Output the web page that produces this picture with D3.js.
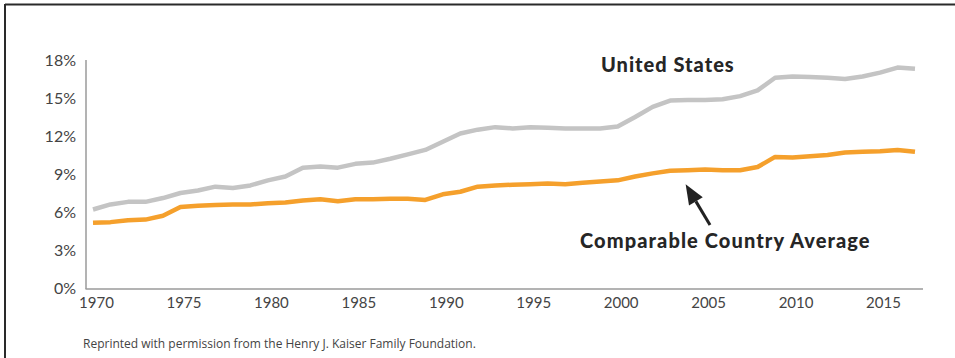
<!DOCTYPE html>
<html>
<head>
<meta charset="utf-8">
<script src="https://cdn.jsdelivr.net/npm/d3@7/dist/d3.min.js"></script>
<style>
  html, body { margin: 0; padding: 0; background: #fff; }
  svg { display: block; }
</style>
</head>
<body>
<svg id="chart" width="955" height="358"></svg>
<script>
// Health spending as a share of GDP, 1970–2017
const years = d3.range(1970, 2018);
const unitedStates = [
  6.2, 6.6, 6.8, 6.8, 7.1, 7.5, 7.7, 8.0, 7.9, 8.1,
  8.5, 8.8, 9.5, 9.6, 9.5, 9.8, 9.9, 10.2, 10.55, 10.9,
  11.55, 12.2, 12.5, 12.7, 12.6, 12.7, 12.65, 12.6, 12.6, 12.6,
  12.75, 13.5, 14.3, 14.8, 14.85, 14.85, 14.9, 15.15, 15.6, 16.6,
  16.7, 16.65, 16.6, 16.5, 16.7, 17.0, 17.4, 17.3
];
const comparableAverage = [
  5.15, 5.2, 5.35, 5.4, 5.7, 6.4, 6.5, 6.55, 6.6, 6.6,
  6.7, 6.75, 6.9, 7.0, 6.85, 7.0, 7.0, 7.05, 7.05, 6.95,
  7.4, 7.6, 8.0, 8.1, 8.15, 8.2, 8.25, 8.2, 8.3, 8.4,
  8.5, 8.8, 9.05, 9.25, 9.3, 9.35, 9.3, 9.3, 9.55, 10.35,
  10.3, 10.4, 10.5, 10.7, 10.75, 10.8, 10.9, 10.75
];
const yTicks = [0, 3, 6, 9, 12, 15, 18];
const xTicks = [1970, 1975, 1980, 1985, 1990, 1995, 2000, 2005, 2010, 2015];

const svg = d3.select("#chart");
const x = d3.scaleLinear().domain([1970, 2017]).range([93, 915]);
const y = d3.scaleLinear().domain([0, 18]).range([288, 60]);

const labelFont = "Lato, 'Noto Sans', sans-serif";

// frame
svg.append("line").attr("x1", 5).attr("x2", 955).attr("y1", 4.5).attr("y2", 4.5)
  .attr("stroke", "#2a2a2a").attr("stroke-width", 2);
svg.append("line").attr("x1", 5).attr("x2", 5).attr("y1", 4).attr("y2", 358)
  .attr("stroke", "#2a2a2a").attr("stroke-width", 2);

// axis lines
svg.append("line").attr("x1", 86).attr("x2", 86).attr("y1", y(18)).attr("y2", 289)
  .attr("stroke", "#9a9a9a").attr("stroke-width", 1.5);
svg.append("line").attr("x1", 85.5).attr("x2", 923).attr("y1", 289).attr("y2", 289)
  .attr("stroke", "#9a9a9a").attr("stroke-width", 1.5);

// y axis labels
const yAxis = svg.append("g").attr("transform", "translate(86,0)")
  .call(d3.axisLeft(y).tickValues(yTicks).tickFormat(d => d + "%").tickSize(0).tickPadding(10));
yAxis.select(".domain").remove();
yAxis.selectAll("text")
  .attr("font-family", labelFont).attr("font-size", 16).attr("fill", "#444");

// x axis labels
const xAxis = svg.append("g").attr("transform", "translate(0,289)")
  .call(d3.axisBottom(x).tickValues(xTicks).tickFormat(d3.format("d")).tickSize(0).tickPadding(8));
xAxis.select(".domain").remove();
xAxis.selectAll("text")
  .attr("dx", 3)
  .attr("font-family", labelFont).attr("font-size", 15).attr("fill", "#444");

// series lines
const line = d3.line().x((d, i) => x(years[i])).y(d => y(d));
svg.append("path").datum(unitedStates)
  .attr("d", line).attr("fill", "none")
  .attr("stroke", "#c4c4c4").attr("stroke-width", 4.5)
  .attr("stroke-linejoin", "round");
svg.append("path").datum(comparableAverage)
  .attr("d", line).attr("fill", "none")
  .attr("stroke", "#f5a02c").attr("stroke-width", 4.5)
  .attr("stroke-linejoin", "round");

// series labels
svg.append("text").attr("x", 601).attr("y", 72)
  .attr("font-family", labelFont).attr("font-weight", 900)
  .attr("font-size", 20).attr("letter-spacing", 1.0).attr("fill", "#262626")
  .text("United States");
svg.append("text").attr("x", 580).attr("y", 248)
  .attr("font-family", labelFont).attr("font-weight", 900)
  .attr("font-size", 20).attr("letter-spacing", 1.1).attr("fill", "#262626")
  .text("Comparable Country Average");

// pointer arrow toward the comparable-country line
const tip = [x(2004) - 2, y(9.3) + 14];
const tail = [710, 225];
const ang = Math.atan2(tail[1] - tip[1], tail[0] - tip[0]);
const headLen = 20, headHalf = 8;
const base = [tip[0] + headLen * Math.cos(ang), tip[1] + headLen * Math.sin(ang)];
svg.append("line")
  .attr("x1", tail[0]).attr("y1", tail[1]).attr("x2", base[0]).attr("y2", base[1])
  .attr("stroke", "#222").attr("stroke-width", 3);
svg.append("path")
  .attr("d", d3.line()([
    tip,
    [base[0] - headHalf * Math.sin(ang), base[1] + headHalf * Math.cos(ang)],
    [base[0] + headHalf * Math.sin(ang), base[1] - headHalf * Math.cos(ang)]
  ]) + "Z")
  .attr("fill", "#222");

// source note
svg.append("text").attr("x", 83).attr("y", 348)
  .attr("font-family", "'Open Sans', 'Noto Sans', sans-serif")
  .attr("font-size", 12).attr("fill", "#444")
  .text("Reprinted with permission from the Henry J. Kaiser Family Foundation.");
</script>
</body>
</html>
